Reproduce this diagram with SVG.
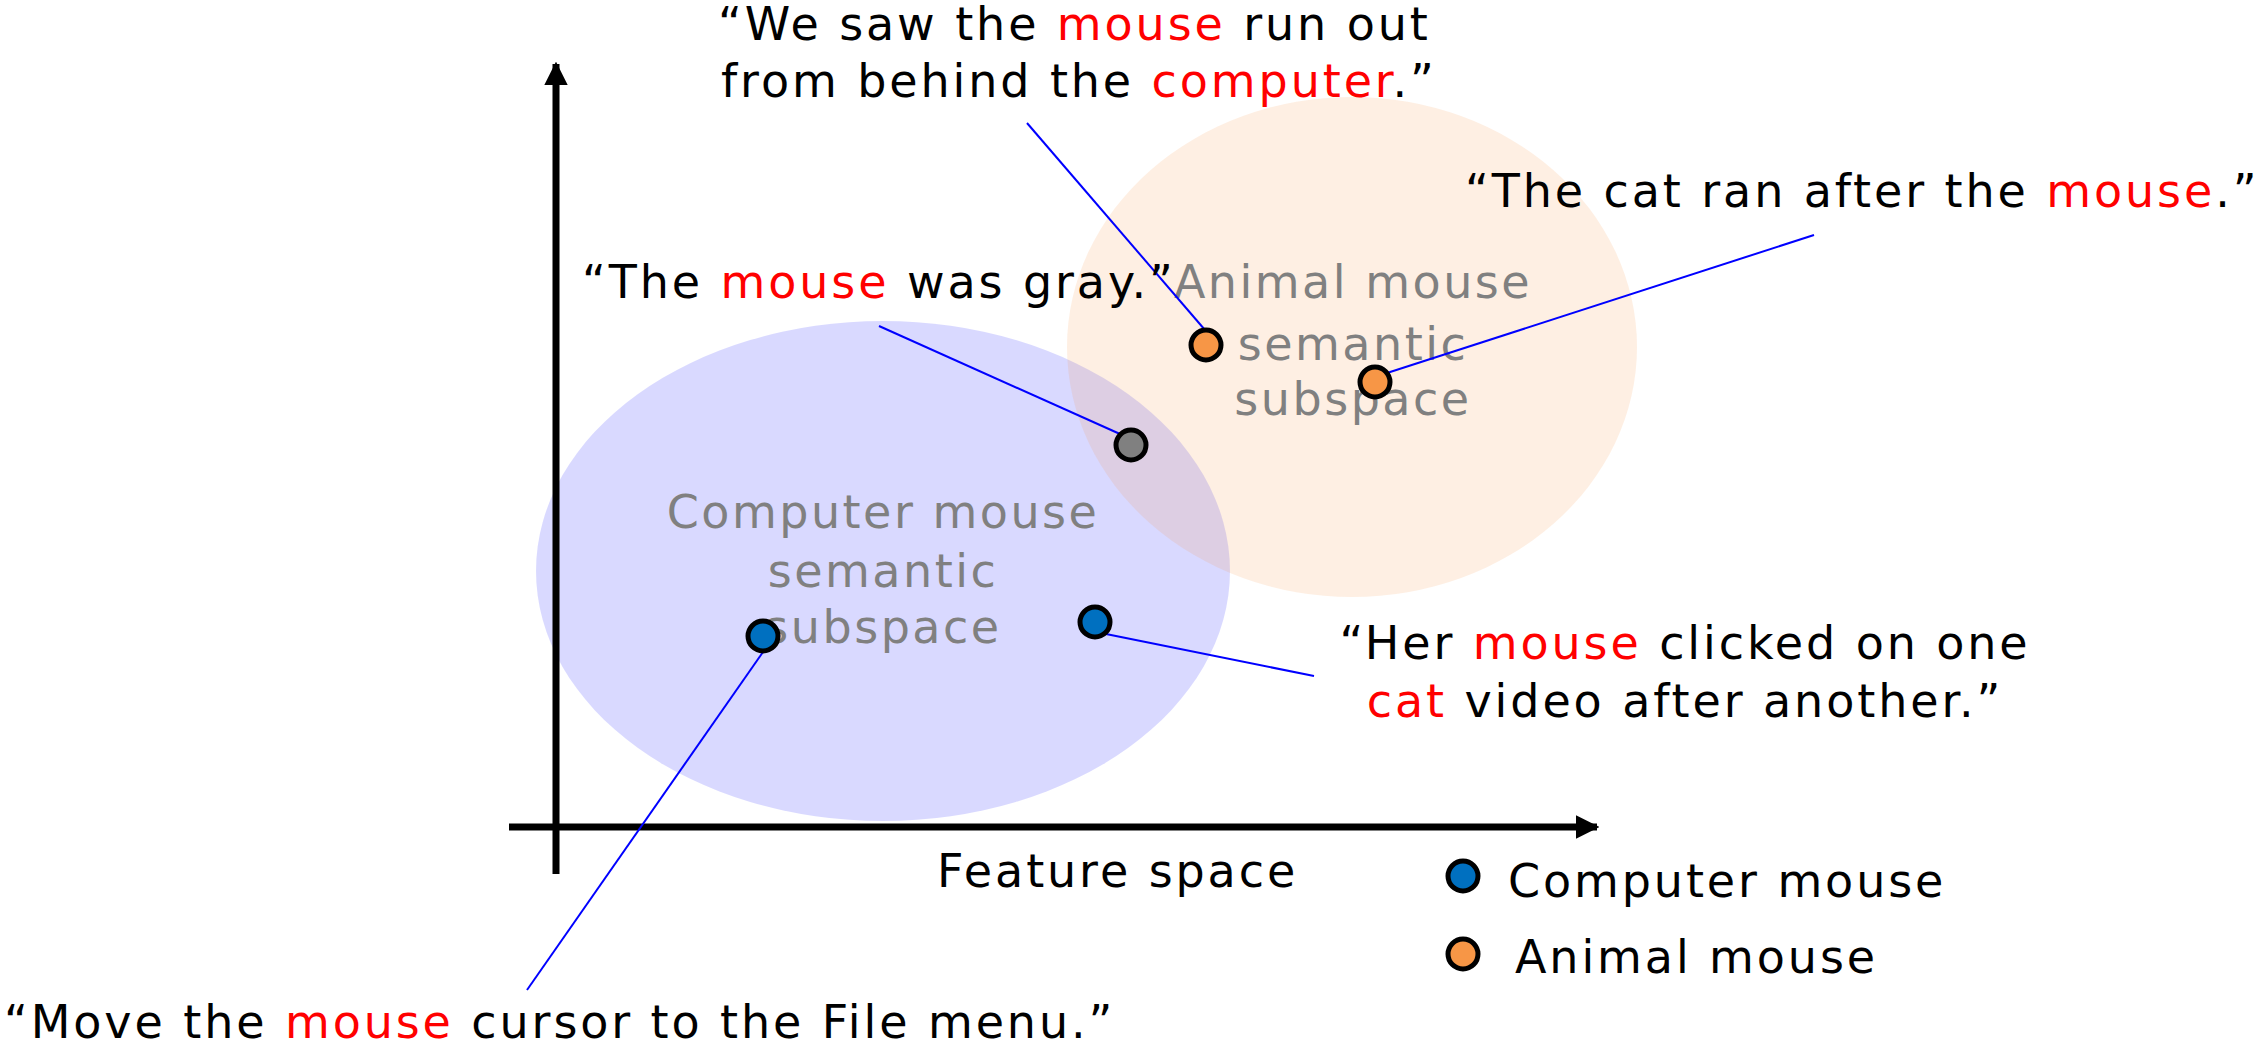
<svg xmlns="http://www.w3.org/2000/svg" width="2266" height="1046" viewBox="0 0 2266 1046">
<style>
text{font-family:"DejaVu Sans","Liberation Sans",sans-serif;font-size:46px;letter-spacing:2.9px;fill:#000}
.r{fill:#ff0000}
.g{fill:#808080;letter-spacing:2.5px}
.lead{stroke:#0000ff;stroke-width:2;fill:none}
.pt{stroke:#000;stroke-width:5}
.blue{fill:#0070c0}
.orange{fill:#f79646}
.grey{fill:#808080}
.axis{stroke:#000;stroke-width:7;fill:none}
</style>
<defs>
<marker id="ah" viewBox="0 0 10 10" refX="9" refY="5" markerWidth="3.4" markerHeight="3.4" markerUnits="strokeWidth" orient="auto">
<path d="M0,0 L10,5 L0,10 z" fill="#000"/>
</marker>
</defs>
<rect width="2266" height="1046" fill="#fff"/>
<g id="subspaces">
<ellipse id="computer-subspace" cx="883" cy="571" rx="347" ry="250" fill="#0000ff" fill-opacity="0.15"/>
<ellipse id="animal-subspace" cx="1352" cy="347" rx="285" ry="250" fill="#f79646" fill-opacity="0.15"/>
<text class="g" x="883" y="528" text-anchor="middle">Computer mouse</text>
<text class="g" x="883" y="587" text-anchor="middle">semantic</text>
<text class="g" x="883" y="643" text-anchor="middle">subspace</text>
<text class="g" x="1353" y="298" text-anchor="middle">Animal mouse</text>
<text class="g" x="1353" y="360" text-anchor="middle">semantic</text>
<text class="g" x="1353" y="415" text-anchor="middle">subspace</text>
</g>
<g id="axes">
<line class="axis" x1="556" y1="874" x2="556" y2="64" marker-end="url(#ah)"/>
<line class="axis" x1="509" y1="827" x2="1597" y2="827" marker-end="url(#ah)"/>
<text x="937" y="887">Feature space</text>
</g>
<g id="connectors">
<line class="lead" x1="1027" y1="123" x2="1205" y2="330"/>
<line class="lead" x1="879" y1="326" x2="1120" y2="434"/>
<line class="lead" x1="1814" y1="235" x2="1387" y2="373"/>
<line class="lead" x1="1314" y1="676" x2="1106" y2="634"/>
<line class="lead" x1="527" y1="990" x2="763" y2="652"/>
</g>
<g id="point-animal-1"><circle class="pt orange" cx="1206" cy="345" r="15"/></g>
<g id="point-animal-2"><circle class="pt orange" cx="1375" cy="382" r="15"/></g>
<g id="point-gray"><circle class="pt grey" cx="1131" cy="445" r="15"/></g>
<g id="point-computer-1"><circle class="pt blue" cx="763" cy="636" r="15"/></g>
<g id="point-computer-2"><circle class="pt blue" cx="1095" cy="622" r="15"/></g>
<g id="quote-saw">
<text x="718" y="40">“We saw the <tspan class="r">mouse</tspan> run out</text>
<text x="721" y="97">from behind the <tspan class="r">computer</tspan>.”</text>
</g>
<g id="quote-cat"><text x="1465" y="207">“The cat ran after the <tspan class="r">mouse</tspan>.”</text></g>
<g id="quote-gray"><text x="582" y="298">“The <tspan class="r">mouse</tspan> was gray.”</text></g>
<g id="quote-her">
<text x="1685" y="659" text-anchor="middle">“Her <tspan class="r">mouse</tspan> clicked on one</text>
<text x="1685" y="717" text-anchor="middle"><tspan class="r">cat</tspan> video after another.”</text>
</g>
<g id="quote-move"><text x="4" y="1038">“Move the <tspan class="r">mouse</tspan> cursor to the File menu.”</text></g>
<g id="legend">
<circle class="pt blue" cx="1463" cy="876" r="15"/>
<text x="1508" y="897">Computer mouse</text>
<circle class="pt orange" cx="1463" cy="954" r="15"/>
<text x="1515" y="973">Animal mouse</text>
</g>
</svg>
